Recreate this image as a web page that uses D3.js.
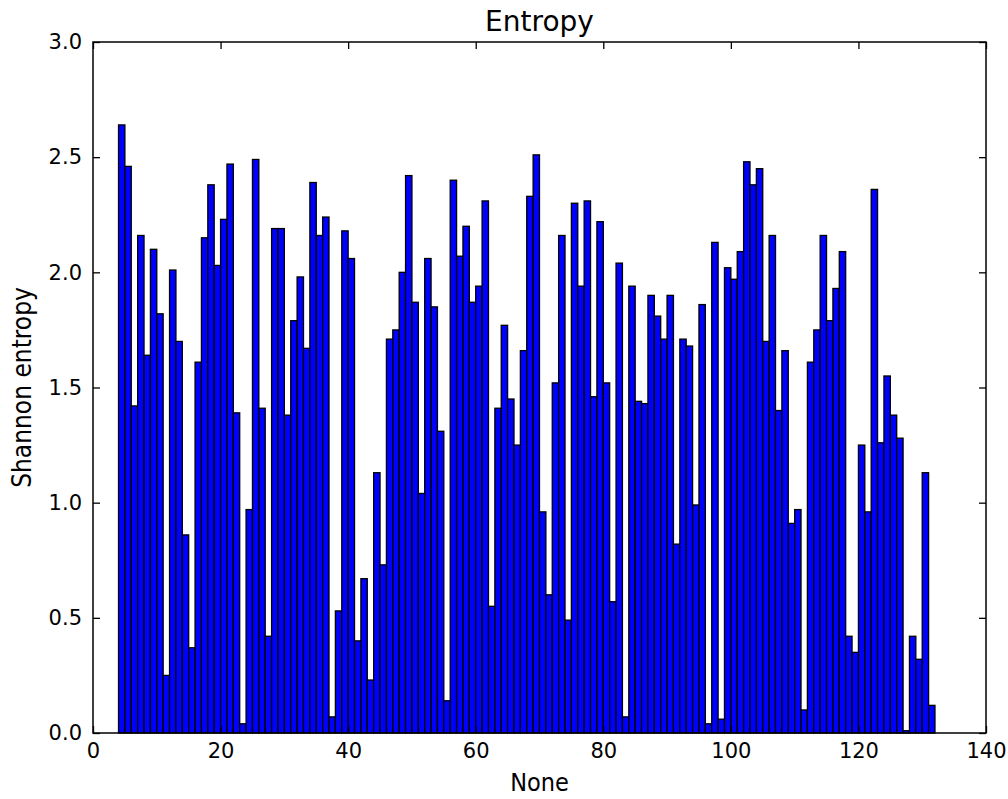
<!DOCTYPE html>
<html>
<head>
<meta charset="utf-8">
<script src="https://d3js.org/d3.v7.min.js"></script>
<style>
	body { margin: 0; background: #fff; }
	.tick text { font-family: "DejaVu Sans", sans-serif; font-size: 21px; fill: #000; }
	.axisLabel { font-family: "DejaVu Sans Condensed", "DejaVu Sans", sans-serif; font-size: 25px; }
	.chartTitle { font-family: "DejaVu Sans", sans-serif; font-size: 28px; }
</style>
</head>
<body>
<script>
(function(){

	//bar heights, one per bin
	var entropy = [
		2.64, 2.46, 1.42, 2.16, 1.64, 2.10, 1.82, 0.25, 2.01, 1.70, 0.86, 0.37, 1.61, 2.15, 2.38, 2.03,
		2.23, 2.47, 1.39, 0.04, 0.97, 2.49, 1.41, 0.42, 2.19, 2.19, 1.38, 1.79, 1.98, 1.67, 2.39, 2.16,
		2.24, 0.07, 0.53, 2.18, 2.06, 0.40, 0.67, 0.23, 1.13, 0.73, 1.71, 1.75, 2.00, 2.42, 1.87, 1.04,
		2.06, 1.85, 1.31, 0.14, 2.40, 2.07, 2.20, 1.87, 1.94, 2.31, 0.55, 1.41, 1.77, 1.45, 1.25, 1.66,
		2.33, 2.51, 0.96, 0.60, 1.52, 2.16, 0.49, 2.30, 1.94, 2.31, 1.46, 2.22, 1.52, 0.57, 2.04, 0.07,
		1.94, 1.44, 1.43, 1.90, 1.81, 1.71, 1.90, 0.82, 1.71, 1.68, 0.99, 1.86, 0.04, 2.13, 0.06, 2.02,
		1.97, 2.09, 2.48, 2.38, 2.45, 1.70, 2.16, 1.40, 1.66, 0.91, 0.97, 0.10, 1.61, 1.75, 2.16, 1.79,
		1.93, 2.09, 0.42, 0.35, 1.25, 0.96, 2.36, 1.26, 1.55, 1.38, 1.28, 0.01, 0.42, 0.32, 1.13, 0.12
	];
	var binStart = 4; //first bin sits at x = 4
	var xTicks = [0, 20, 40, 60, 80, 100, 120, 140];
	var yTicks = [0, 0.5, 1.0, 1.5, 2.0, 2.5, 3.0];
	var titleText = "Entropy",
		xLabelText = "None",
		yLabelText = "Shannon entropy";

	//frame dimensions
	var width = 1008,
		height = 799,
		left = 93,
		right = 986,
		top = 42,
		bottom = 733,
		tickLen = 7;

	var svg = d3.select("body")
		.append("svg")
		.attr("width", width)
		.attr("height", height);

	var x = d3.scaleLinear()
		.domain([0, 140])
		.range([left, right]);

	var y = d3.scaleLinear()
		.domain([0, 3])
		.range([bottom, top]);

	//bars, edge aligned, width 1
	svg.selectAll(".bar")
		.data(entropy)
		.enter()
		.append("rect")
		.attr("class", "bar")
		.attr("x", function(d, i){ return x(binStart + i); })
		.attr("width", function(d, i){ return x(binStart + i + 1) - x(binStart + i); })
		.attr("y", function(d){ return y(d); })
		.attr("height", function(d){ return y(0) - y(d); })
		.style("fill", "#0000ff")
		.style("stroke", "#000")
		.style("stroke-width", 1.3);

	//axes with inward ticks on all four sides
	var xAxis = svg.append("g")
		.attr("transform", "translate(0," + bottom + ")")
		.call(d3.axisBottom(x).tickValues(xTicks).tickFormat(d3.format("d")).tickSize(-tickLen).tickPadding(10));
	var yAxis = svg.append("g")
		.attr("transform", "translate(" + left + ",0)")
		.call(d3.axisLeft(y).tickValues(yTicks).tickFormat(d3.format(".1f")).tickSize(-tickLen).tickPadding(11));
	var xTop = svg.append("g")
		.attr("transform", "translate(0," + top + ")")
		.call(d3.axisTop(x).tickValues(xTicks).tickFormat("").tickSize(-tickLen));
	var yRight = svg.append("g")
		.attr("transform", "translate(" + right + ",0)")
		.call(d3.axisRight(y).tickValues(yTicks).tickFormat("").tickSize(-tickLen));

	svg.selectAll(".domain").remove();
	svg.selectAll(".tick line")
		.style("stroke", "#000")
		.style("stroke-width", 1.3);

	//plot frame
	svg.append("rect")
		.attr("x", left)
		.attr("y", top)
		.attr("width", right - left)
		.attr("height", bottom - top)
		.style("fill", "none")
		.style("stroke", "#000")
		.style("stroke-width", 1.5);

	//title and labels
	svg.append("text")
		.attr("class", "chartTitle")
		.attr("x", (left + right) / 2)
		.attr("y", 31)
		.attr("text-anchor", "middle")
		.text(titleText);

	svg.append("text")
		.attr("class", "axisLabel")
		.attr("x", (left + right) / 2)
		.attr("y", 791)
		.attr("text-anchor", "middle")
		.text(xLabelText);

	svg.append("text")
		.attr("class", "axisLabel")
		.attr("transform", "translate(31," + (top + bottom) / 2 + ") rotate(-90)")
		.attr("text-anchor", "middle")
		.style("font-size", "26px")
		.text(yLabelText);
})();
</script>
</body>
</html>
